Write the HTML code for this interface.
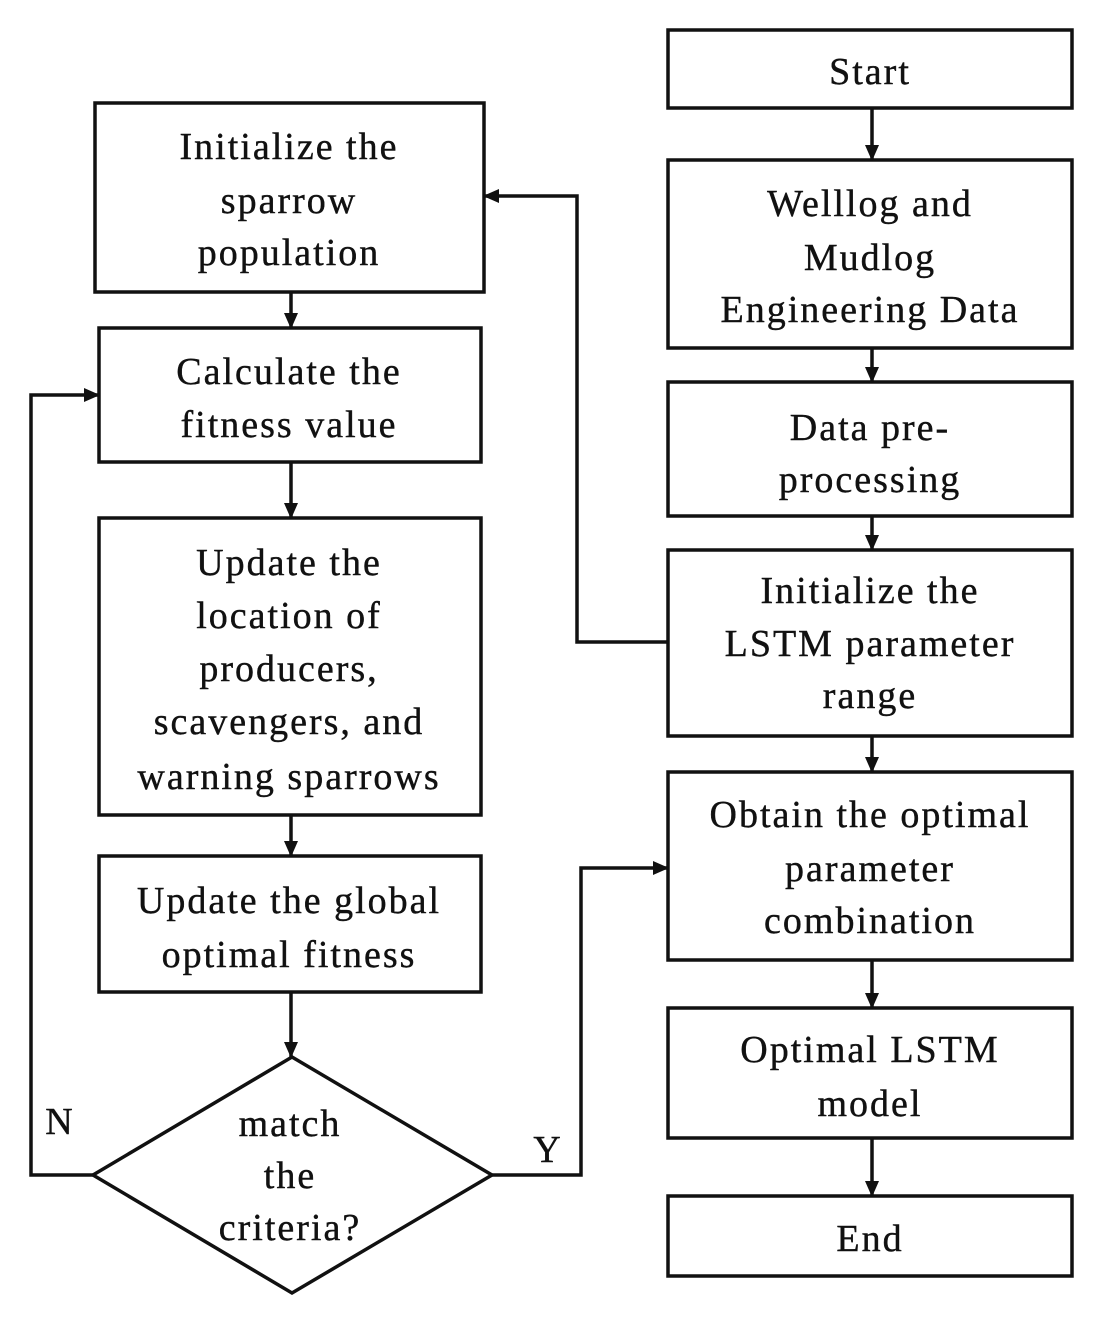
<!DOCTYPE html>
<html><head><style>
html,body{margin:0;padding:0;background:#fff;}
svg{display:block;}
text{font-family:"Liberation Serif",serif;font-size:38px;letter-spacing:2px;fill:#111;stroke:#111;stroke-width:0.4;text-anchor:middle;}
</style></head><body>
<svg width="1095" height="1324" viewBox="0 0 1095 1324">
<defs><marker id="b" markerWidth="16" markerHeight="14" refX="15" refY="7" orient="auto" markerUnits="userSpaceOnUse"><path d="M0,0 L16,7 L0,14 z" fill="#111"/></marker></defs>
<g fill="none" stroke="#111" stroke-width="3.5">
<rect x="668" y="30" width="404" height="78"/>
<rect x="668" y="160" width="404" height="188"/>
<rect x="668" y="382" width="404" height="134"/>
<rect x="668" y="550" width="404" height="186"/>
<rect x="668" y="772" width="404" height="188"/>
<rect x="668" y="1008" width="404" height="130"/>
<rect x="668" y="1196" width="404" height="80"/>
<rect x="95" y="103" width="389" height="189"/>
<rect x="99" y="328" width="382" height="134"/>
<rect x="99" y="518" width="382" height="297"/>
<rect x="99" y="856" width="382" height="136"/>
<polygon points="292,1057 492,1175 292,1293 93,1175"/>
</g>
<g stroke="#111" stroke-width="3.5" fill="none" marker-end="url(#b)">
<line x1="872" y1="108" x2="872" y2="160"/>
<line x1="872" y1="348" x2="872" y2="382"/>
<line x1="872" y1="516" x2="872" y2="550"/>
<line x1="872" y1="736" x2="872" y2="772"/>
<line x1="872" y1="960" x2="872" y2="1008"/>
<line x1="872" y1="1138" x2="872" y2="1196"/>
<line x1="291" y1="292" x2="291" y2="328"/>
<line x1="291" y1="462" x2="291" y2="518"/>
<line x1="291" y1="815" x2="291" y2="856"/>
<line x1="291" y1="992" x2="291" y2="1057"/>
<polyline points="668,642 577,642 577,196 484,196"/>
<polyline points="93,1175 31,1175 31,395 99,395"/>
<polyline points="492,1175 581,1175 581,868 668,868"/>
</g>
<text x="870" y="84">Start</text>
<text x="870" y="216">Welllog and</text>
<text x="870" y="270">Mudlog</text>
<text x="870" y="322">Engineering  Data</text>
<text x="870" y="440">Data pre-</text>
<text x="870" y="492">processing</text>
<text x="870" y="603">Initialize the</text>
<text x="870" y="656">LSTM  parameter</text>
<text x="870" y="708">range</text>
<text x="870" y="827">Obtain the optimal</text>
<text x="870" y="881">parameter</text>
<text x="870" y="933">combination</text>
<text x="870" y="1062">Optimal LSTM</text>
<text x="870" y="1116">model</text>
<text x="870" y="1251">End</text>
<text x="289" y="159">Initialize  the</text>
<text x="289" y="213">sparrow</text>
<text x="289" y="265">population</text>
<text x="289" y="384">Calculate  the</text>
<text x="289" y="437">fitness value</text>
<text x="289" y="575">Update  the</text>
<text x="289" y="628">location of</text>
<text x="289" y="681">producers,</text>
<text x="289" y="734">scavengers, and</text>
<text x="289" y="789">warning  sparrows</text>
<text x="289" y="913">Update the global</text>
<text x="289" y="967">optimal fitness</text>
<text x="290" y="1136">match</text>
<text x="290" y="1188">the</text>
<text x="290" y="1240">criteria?</text>
<text x="60" y="1134">N</text>
<text x="548" y="1162">Y</text>
</svg>
</body></html>
